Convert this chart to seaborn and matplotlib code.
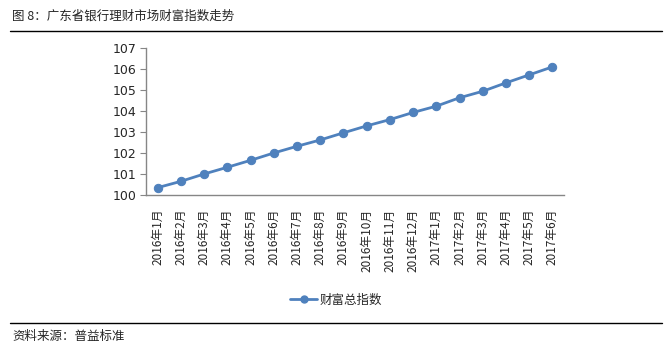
import matplotlib
matplotlib.use("Agg")
import matplotlib.pyplot as plt
import seaborn as sns
from matplotlib.lines import Line2D

# Data
months = ["2016年1月", "2016年2月", "2016年3月", "2016年4月", "2016年5月", "2016年6月",
          "2016年7月", "2016年8月", "2016年9月", "2016年10月", "2016年11月", "2016年12月",
          "2017年1月", "2017年2月", "2017年3月", "2017年4月", "2017年5月", "2017年6月"]
wealth_index = [100.35, 100.65, 101.0, 101.32, 101.65, 102.0, 102.32, 102.62, 102.96,
                103.29, 103.59, 103.93, 104.23, 104.63, 104.94, 105.34, 105.72, 106.10]
series_name = "财富总指数"

sns.set_style("white")
plt.rcParams["font.family"] = ["Noto Sans CJK SC", "DejaVu Sans"]

color = "#4F81BD"
axis_gray = "#868686"

fig = plt.figure(figsize=(6.72, 3.52), dpi=100)
ax = fig.add_axes([146 / 672, 1 - 195 / 352, (564 - 146) / 672, (195 - 48) / 352])

pos = list(range(len(months)))
sns.lineplot(x=pos, y=wealth_index, ax=ax, color=color, marker="o", markersize=6,
             markeredgecolor=color, linewidth=2)

ax.set_xlim(-0.5, len(months) - 0.5)
ax.set_ylim(100, 107)
ax.set_yticks(range(100, 108))
ax.set_yticklabels([str(v) for v in range(100, 108)], fontsize=9, family="DejaVu Sans")
ax.set_xticks(pos)
ax.set_xticklabels(months, rotation=90, fontsize=8.5)
ax.set_xticks([p + 0.5 for p in [-1] + pos], minor=True)
ax.tick_params(axis="x", which="major", length=0, pad=10)
ax.tick_params(axis="x", which="minor", length=4, color=axis_gray, direction="out")
ax.tick_params(axis="y", length=4, color=axis_gray, direction="out", left=True, pad=3)

for side in ["top", "right"]:
    ax.spines[side].set_visible(False)
for side in ["left", "bottom"]:
    ax.spines[side].set_color(axis_gray)
    ax.spines[side].set_linewidth(1)
ax.grid(False)

handle = Line2D([], [], color=color, marker="o", markersize=5, linewidth=2)
fig.legend([handle], [series_name], loc="center", bbox_to_anchor=(0.5, 1 - 300 / 352),
           frameon=False, fontsize=9, handlelength=2.2, handletextpad=0.2)

# header and footer
fig.text(12 / 672, 1 - 16 / 352, "图 8：广东省银行理财市场财富指数走势", fontsize=9, va="center")
fig.add_artist(Line2D([10 / 672, 662 / 672], [1 - 31 / 352] * 2, color="black", linewidth=1))
fig.add_artist(Line2D([10 / 672, 662 / 672], [1 - 323 / 352] * 2, color="black", linewidth=1))
fig.text(12 / 672, 1 - 336 / 352, "资料来源：普益标准", fontsize=9, va="center")

fig.savefig("out.png", dpi=100)
